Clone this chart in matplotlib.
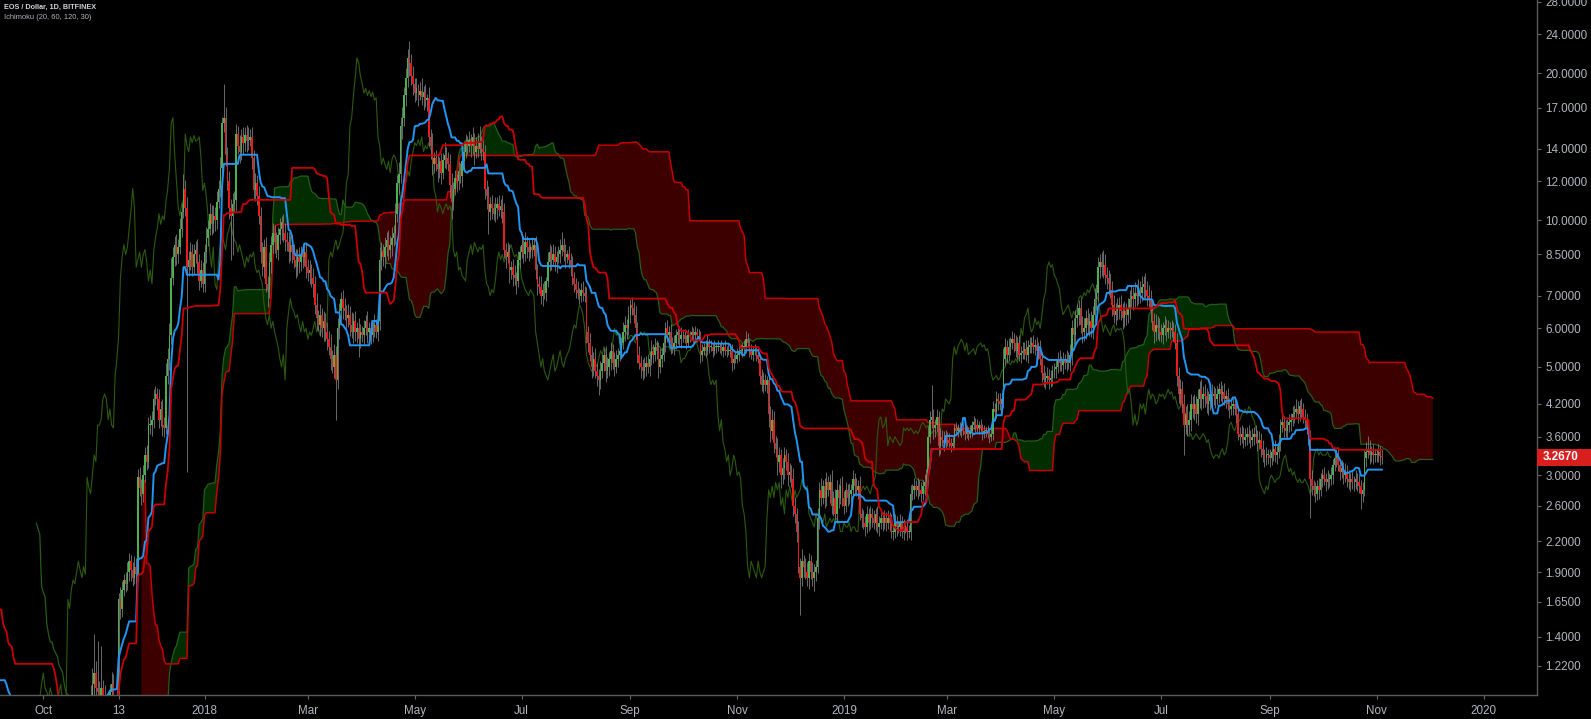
import numpy as np
import pandas as pd
import matplotlib
matplotlib.use("Agg")
import matplotlib.pyplot as plt
import matplotlib.transforms as mtransforms
from matplotlib.patches import Rectangle

# ---------------- data: daily closes (Bitfinex EOS/USD), upper / lower wick in % ----------------
c_2017_07 = [2.60,3.00,3.10,3.00,2.90,2.75,2.50,2.35,2.30,2.10, 1.95,2.05,1.95,1.80,1.55,1.35,1.60,1.75,1.65,1.85, 1.75,1.80,1.70,1.65,1.50,1.50,1.55,1.60,1.50,1.55,1.65]
u_2017_07 = [41,67,74,13,17,19,9,8,6,9, 10,9,7,5,5,4,3,5,4,5, 4,3,4,3,4,3,4,3,4,3,4]
d_2017_07 = [23,8,6,5,6,5,6,5,4,6, 5,4,5,6,7,11,4,5,6,4, 5,4,5,6,5,4,5,4,5,4,3]
c_2017_08 = [1.60,1.55,1.50,1.55,1.65,1.75,1.85,1.90,1.80,1.70, 1.55,1.45,1.50,1.40,1.35,1.40,1.45,1.50,1.45,1.40, 1.50,1.45,1.40,1.35,1.30,1.35,1.30,1.25,1.20,1.15,1.10]
u_2017_08 = [3,4,3,4,3,4,3,6,3,4, 3,4,3,4,3,4,3,5,4,3, 7,4,3,4,3,4,3,4,3,4,3]
d_2017_08 = [5,4,5,4,3,4,3,4,5,4, 5,4,3,5,4,3,4,3,4,5, 3,4,5,4,5,3,4,5,4,5,6]
c_2017_09 = [1.05,0.95,0.90,0.72,0.85,0.90,0.88,0.82,0.85,0.80, 0.78,0.75,0.70,0.55,0.60,0.65,0.68,0.75,0.70,0.72, 0.70,0.66,0.68,0.70,0.68,0.66,0.68,0.70,0.72,0.74]
u_2017_09 = [4,3,4,3,5,6,4,3,4,3, 4,3,4,3,5,4,3,5,4,3, 4,3,4,3,4,3,4,3,4,3]
d_2017_09 = [5,6,5,6,4,3,4,5,4,5, 4,5,6,5,18,4,5,4,5,4, 5,4,3,4,5,4,3,4,3,4]
c_2017_10 = [0.75,0.78,0.80,0.78,0.76,0.74,0.72,0.70,0.72,0.70, 0.68,0.70,0.72,0.75,0.72,0.70,0.72,0.75,0.78,0.80, 0.85,0.82,0.80,0.85,0.90,0.95,0.92,1.05,1.12,1.18,1.10]
u_2017_10 = [3,4,3,4,3,4,3,4,3,4, 3,4,3,4,3,4,3,4,3,4, 5,4,3,5,4,5,4,6,8,20,6]
d_2017_10 = [4,3,4,3,4,3,4,5,4,3, 4,3,4,3,4,3,4,3,4,3, 4,5,4,3,4,5,4,3,4,5,6]
c_2017_11 = [1.08,1.05,1.10,1.06,1.02,0.98,1.02,1.08,1.12,1.00, 1.02,1.05,1.67,1.60,1.75,1.83,1.80,1.90,2.00,1.92, 1.85,1.95,1.88,2.97,2.83,2.75,3.00,3.30,3.20,3.80]
u_2017_11 = [25,5,22,4,5,4,5,4,6,5, 4,5,3,6,4,3,4,5,4,3, 4,5,4,4,5,4,5,4,5,4]
d_2017_11 = [4,5,4,5,4,5,4,3,4,5, 4,5,5,5,4,3,4,3,4,5, 4,3,4,3,4,5,4,3,4,3]
c_2017_12 = [3.80,3.90,4.30,4.40,4.30,3.90,4.10,3.80,3.75,4.80, 5.20,5.80,7.60,8.40,8.90,8.50,8.80,9.60,10.40,11.60, 10.60,8.00,8.30,8.60,8.00,8.50,8.70,8.20,7.50,7.90,7.40]
u_2017_12 = [5,4,5,4,3,5,4,5,4,6, 5,6,10,5,4,5,4,5,4,7, 4,5,4,5,4,5,4,5,4,5,4]
d_2017_12 = [4,5,4,3,5,4,3,5,4,3, 4,5,4,3,4,5,4,3,4,3, 4,62,4,5,4,3,4,5,4,3,4]

c_2018_01 = [8.60,9.20,9.60,10.30,9.80,10.20,10.00,10.90,11.60,12.80, 15.80,16.20,13.60,12.00,10.60,10.20,10.80,11.00,15.00,14.20, 13.80,14.80,14.40,14.90,14.50,14.60,14.80,13.40,11.50,11.90,11.20]
u_2018_01 = [4,5,4,5,4,5,4,5,4,5, 3,17,5,4,5,4,5,4,5,4, 5,4,5,4,5,6,4,5,4,5,4]
d_2018_01 = [4,5,4,3,5,4,5,4,3,4, 5,4,5,4,5,19,17,4,5,4, 5,4,5,4,5,4,3,5,4,5,4]
c_2018_02 = [10.20,8.60,8.00,8.80,7.40,7.20,8.20,8.90,9.40,9.00, 8.70,9.30,9.60,9.90,9.40,9.10,9.00,8.60,8.90,8.60, 8.30,8.00,8.40,8.20,8.50,8.40,8.60,8.00]
u_2018_02 = [5,4,5,4,5,4,5,4,5,4, 5,4,5,3,4,5,4,5,4,5, 4,5,4,5,4,5,4,5]
d_2018_02 = [4,5,4,5,4,8,4,5,4,5, 4,5,4,5,4,5,4,5,4,5, 4,5,4,5,4,5,4,5]
c_2018_03 = [7.80,7.90,7.60,7.40,6.70,6.30,6.10,6.40,6.00,6.20, 5.90,5.70,5.50,5.20,5.00,5.30,4.70,6.00,6.50,6.90, 6.60,6.50,6.30,6.40,6.10,5.90,6.20,5.90,6.00,5.70,5.90]
u_2018_03 = [4,5,3,5,4,6,4,5,3,5, 4,5,4,6,4,5,4,5,4,3, 4,5,3,5,4,6,4,5,3,5,4]
d_2018_03 = [4,5,4,6,4,5,3,5,4,6, 4,5,4,5,3,5,17,4,5,4, 5,4,6,4,5,3,5,4,5,8,4]
c_2018_04 = [5.80,6.00,6.20,5.90,6.00,5.80,6.00,6.10,5.90,6.20, 8.30,8.60,8.40,8.80,9.10,8.70,8.90,9.20,9.40,10.30, 11.90,12.40,15.60,16.20,18.00,19.50,21.50,21.00,19.70,19.00]
u_2018_04 = [3,4,3,5,3,4,3,5,3,4, 6,5,4,5,4,5,4,5,4,5, 4,6,4,5,4,5,4,8,4,5]
d_2018_04 = [3,4,3,5,3,4,3,4,3,4, 4,5,4,5,4,5,4,5,4,5, 4,5,4,6,4,5,4,6,4,5]
c_2018_05 = [18.20,18.60,18.00,18.40,17.90,18.30,17.60,17.80,14.80,14.20, 13.00,13.40,13.00,12.70,13.20,12.50,13.30,13.60,13.40,13.00, 11.80,10.90,11.60,12.20,12.00,12.60,12.30,13.20,13.80,14.40,14.20]
u_2018_05 = [3,5,2,4,6,3,4,2,5,4, 6,3,4,5,2,4,3,6,4,3, 5,6,3,4,2,5,4,3,5,4,3]
d_2018_05 = [4,3,5,2,4,6,3,5,4,6, 5,4,3,6,4,5,3,4,5,3, 6,8,4,3,5,4,3,5,4,3,4]
c_2018_06 = [14.60,14.20,14.80,13.80,14.20,14.00,14.40,14.00,13.80,11.60, 11.20,10.40,10.80,10.60,10.30,10.60,10.80,10.50,10.70,10.40, 8.70,8.40,8.60,7.90,8.00,7.70,7.60,7.50,8.30,8.60]
u_2018_06 = [4,3,5,2,4,6,8,3,4,3, 4,5,3,4,2,5,3,4,3,5, 4,3,5,4,3,4,5,3,4,3]
d_2018_06 = [3,5,4,6,3,4,2,5,4,5, 6,10,4,5,3,4,5,3,4,5, 4,5,3,6,4,5,3,6,3,4]
c_2018_07 = [8.90,8.50,9.00,8.80,8.60,8.80,8.70,8.90,7.90,7.40, 7.30,7.00,7.20,7.10,7.50,8.20,8.60,8.30,8.50,8.20, 8.40,8.50,8.70,8.90,8.60,8.40,8.50,8.30,8.10,7.60,7.40]
u_2018_07 = [4,3,5,3,4,2,5,3,4,3, 4,5,3,4,2,5,4,3,5,4, 3,4,5,6,3,4,2,4,3,4,3]
d_2018_07 = [3,4,3,5,4,3,4,3,4,5, 3,4,5,3,4,3,4,5,3,4, 5,3,4,3,4,5,3,4,5,3,4]
c_2018_08 = [7.20,7.10,7.00,7.20,7.10,7.00,5.90,5.60,5.30,5.00, 5.20,4.90,4.80,4.70,4.90,5.10,5.30,4.90,5.00,5.20, 5.40,5.10,5.00,5.20,5.30,5.40,5.60,5.90,6.10,6.00,6.40]
u_2018_08 = [3,4,2,3,4,3,4,3,5,4, 3,5,4,3,5,4,3,4,5,3, 4,3,5,4,3,4,3,5,4,3,4]
d_2018_08 = [4,3,4,3,4,3,5,4,3,5, 4,3,5,7,4,3,4,5,3,4, 5,3,4,3,4,3,4,3,4,5,3]
c_2018_09 = [6.70,6.60,6.40,6.00,5.30,5.10,5.00,4.90,5.00,5.10, 5.00,5.20,5.40,5.30,5.50,5.40,5.00,5.20,5.30,5.60, 6.00,5.80,5.90,5.60,5.50,5.60,5.80,5.90,5.70,5.80]
u_2018_09 = [3,4,3,4,3,4,3,4,5,3, 4,3,5,3,4,3,4,5,3,4, 3,4,3,4,3,4,3,4,3,4]
d_2018_09 = [4,3,4,5,4,3,5,4,3,4, 3,4,3,4,3,4,5,3,4,3, 4,3,4,5,3,4,3,4,3,4]
c_2018_10 = [5.80,5.70,5.60,5.80,5.80,5.90,5.80,5.90,5.80,5.80, 5.30,5.40,5.50,5.40,5.60,5.50,5.50,5.40,5.50,5.50, 5.50,5.50,5.40,5.50,5.40,5.40,5.40,5.40,5.10,5.20,5.20]
u_2018_10 = [2,3,2,3,2,3,2,3,2,3, 2,3,2,3,4,2,3,2,3,2, 3,2,3,2,3,2,3,2,3,2,3]
d_2018_10 = [3,2,3,2,3,2,3,2,3,2, 4,3,2,3,2,3,2,3,2,3, 2,3,2,3,2,3,2,3,4,3,2]
c_2018_11 = [5.30,5.40,5.40,5.50,5.50,5.70,5.60,5.40,5.30,5.40, 5.40,5.30,5.20,4.80,4.60,4.70,4.60,4.70,4.00,3.70, 3.90,3.50,3.40,3.20,3.30,3.00,3.10,3.30,3.20,3.00]
u_2018_11 = [3,2,3,2,3,4,3,2,3,2, 3,2,3,2,3,4,3,2,3,4, 5,4,3,5,4,3,5,4,3,4]
d_2018_11 = [2,3,2,3,2,3,2,3,2,3, 2,3,2,4,3,4,3,4,6,5, 4,5,4,6,5,6,4,5,4,5]
c_2018_12 = [3.05,2.95,2.60,2.50,2.30,1.95,1.85,2.00,1.95,1.90, 1.85,2.00,1.90,1.85,1.90,1.95,2.45,2.80,2.70,2.85, 2.70,2.90,2.80,2.90,2.60,2.70,2.50,2.80,2.70,2.85,2.70]
u_2018_12 = [4,3,5,4,3,5,4,6,3,4, 5,4,3,5,4,3,5,4,6,3, 4,5,3,4,6,3,4,5,3,4,5]
d_2018_12 = [3,4,5,4,5,3,16,4,5,3, 4,5,3,4,6,4,3,5,4,3, 5,4,3,6,4,5,3,4,5,3,4]

c_2019_01 = [2.60,2.80,2.70,2.75,2.80,2.95,2.85,2.80,2.85,2.50, 2.45,2.40,2.35,2.50,2.40,2.50,2.45,2.40,2.50,2.35, 2.40,2.45,2.40,2.45,2.40,2.45,2.40,2.30,2.30,2.40,2.35]
u_2019_01 = [3,4,3,5,3,4,3,4,3,5, 3,4,3,4,3,4,3,4,3,4, 3,4,3,4,3,4,3,4,3,4,3]
d_2019_01 = [4,3,4,3,4,3,4,3,4,3, 4,3,4,3,4,3,4,3,4,3, 4,3,4,3,4,3,4,3,4,3,4]
c_2019_02 = [2.35,2.40,2.30,2.35,2.35,2.30,2.30,2.75,2.80,2.85, 2.80,2.85,2.80,2.75,2.85,2.90,3.00,3.60,3.90,3.95, 3.75,3.80,3.95,3.45,3.60,3.55,3.50,3.60]
u_2019_02 = [3,4,3,4,3,4,3,4,3,4, 3,4,3,4,3,4,3,5,4,16, 4,3,4,3,4,3,4,3]
d_2019_02 = [3,4,3,4,3,4,3,4,3,4, 3,4,3,4,3,4,3,4,3,4, 5,4,3,5,4,3,4,3]
c_2019_03 = [3.55,3.50,3.45,3.50,3.75,3.70,3.75,3.70,3.75,3.70, 3.65,3.70,3.65,3.70,3.80,3.85,3.80,3.75,3.80,3.75, 3.65,3.70,3.70,3.65,3.60,3.65,4.10,4.05,4.30,4.25,4.20]
u_2019_03 = [2,3,2,3,2,3,2,3,2,3, 2,3,2,3,2,3,2,3,2,3, 2,3,2,3,2,3,4,3,4,3,4]
d_2019_03 = [3,2,3,2,3,2,3,2,3,2, 3,2,3,2,3,2,3,2,3,2, 3,2,3,2,3,2,3,4,3,4,3]
c_2019_04 = [4.30,5.20,5.50,5.30,5.50,5.60,5.70,5.60,5.40,5.60, 5.30,5.35,5.40,5.45,5.30,5.50,5.55,5.60,5.50,5.55, 5.40,5.45,5.20,4.85,4.70,4.75,4.80,4.70,4.75,4.90]
u_2019_04 = [3,5,4,3,4,3,4,3,4,3, 4,3,4,3,4,3,4,3,4,3, 4,3,4,3,4,3,4,3,4,3]
d_2019_04 = [3,4,3,4,3,4,3,4,3,4, 3,4,3,4,3,4,3,4,3,4, 3,4,3,4,3,4,3,4,3,4]
c_2019_05 = [4.95,5.00,5.20,5.10,5.05,5.15,5.10,5.20,5.10,5.30, 6.00,5.80,6.30,6.40,6.60,6.10,5.90,6.00,6.30,6.10, 6.20,6.00,6.40,6.90,7.10,8.00,8.20,8.00,8.10,7.70,7.60]
u_2019_05 = [3,4,3,4,3,4,3,4,3,5, 4,5,4,5,4,5,4,5,4,5, 4,5,4,5,4,5,4,5,7,5,4]
d_2019_05 = [3,4,3,4,3,4,3,4,3,4, 5,4,5,4,5,4,5,4,5,4, 5,4,5,4,5,4,5,4,5,4,5]
c_2019_06 = [7.40,7.20,6.70,6.40,6.50,6.60,6.70,6.50,6.30,6.50, 6.40,6.60,6.90,7.00,6.90,7.10,7.00,7.20,7.10,7.30, 7.40,7.20,7.00,6.90,6.50,6.20,5.90,6.10,6.00,5.90]
u_2019_06 = [4,5,4,5,4,5,4,5,4,5, 4,5,4,5,4,5,4,5,4,5, 4,5,4,5,4,5,4,5,4,5]
d_2019_06 = [5,4,5,4,5,4,5,4,5,4, 5,4,5,4,5,4,5,4,5,4, 5,4,5,4,5,4,5,4,5,4]
c_2019_07 = [5.80,6.00,6.10,5.90,6.00,5.95,6.00,5.90,5.60,4.80, 4.40,4.50,4.20,3.80,4.00,3.80,3.90,4.20,4.10,4.20, 4.00,4.30,4.50,4.30,4.40,4.35,4.20,4.25,4.40,4.35,4.40]
u_2019_07 = [4,3,4,3,4,3,4,3,4,5, 4,5,4,5,4,5,4,5,4,5, 4,5,4,5,4,5,4,5,4,5,4]
d_2019_07 = [3,4,3,4,3,4,3,4,3,5, 4,5,4,13,4,5,4,5,4,5, 4,5,4,5,4,5,4,5,4,5,4]
c_2019_08 = [4.30,4.40,4.50,4.40,4.45,4.30,4.35,4.20,4.10,4.15, 4.20,4.10,4.00,3.65,3.60,3.65,3.55,3.60,3.65,3.60, 3.55,3.60,3.65,3.60,3.50,3.55,3.40,3.30,3.25,3.30,3.30]
u_2019_08 = [3,4,3,4,3,4,3,4,3,4, 3,4,3,4,3,4,3,4,3,4, 3,4,3,4,3,4,3,4,3,4,3]
d_2019_08 = [4,3,4,3,4,3,4,3,4,3, 4,3,4,3,4,3,4,3,4,3, 4,3,4,3,4,3,4,3,4,3,4]
c_2019_09 = [3.25,3.35,3.40,3.30,3.35,3.50,3.80,3.85,3.75,3.70, 3.80,3.85,3.90,4.00,4.05,4.10,4.00,4.15,4.10,3.95, 3.90,3.75,3.60,2.95,2.85,2.80,2.75,2.85,2.80,2.95]
u_2019_09 = [3,4,3,4,3,4,3,4,3,4, 3,4,3,4,3,5,4,3,4,3, 4,3,4,3,4,3,4,3,4,3]
d_2019_09 = [4,3,4,3,4,3,4,3,4,3, 4,3,4,3,4,3,4,3,4,3, 4,3,4,17,4,3,4,3,4,3]
c_2019_10 = [3.00,2.95,2.90,2.95,2.95,3.00,3.15,3.25,3.30,3.15, 3.05,3.10,3.00,3.05,2.95,2.90,2.95,2.90,2.90,2.95, 2.90,2.85,2.75,2.80,3.25,3.35,3.40,3.30,3.35,3.30,3.30]
u_2019_10 = [3,4,3,4,3,4,3,4,3,4, 3,4,3,4,3,4,3,4,3,4, 3,4,3,4,4,5,6,4,3,4,3]
d_2019_10 = [4,3,4,3,4,3,4,3,4,3, 4,3,4,3,4,3,4,3,4,3, 4,3,7,4,3,4,3,4,3,4,3]
c_2019_11 = [3.30,3.35,3.28,3.267]
u_2019_11 = [3,4,3,3]
d_2019_11 = [3,3,4,3]

first_open = 3.20
start_date = "2017-07-01"
ichimoku_params = (20, 60, 120, 30)

x_tick_dates = ["2017-10-01", "2017-11-13", "2018-01-01", "2018-03-01", "2018-05-01", "2018-07-01",
                "2018-09-01", "2018-11-01", "2019-01-01", "2019-03-01", "2019-05-01", "2019-07-01",
                "2019-09-01", "2019-11-01", "2020-01-01"]
x_tick_labels = ["Oct", "13", "2018", "Mar", "May", "Jul", "Sep", "Nov", "2019", "Mar", "May", "Jul",
                 "Sep", "Nov", "2020"]
y_ticks = [1.22, 1.40, 1.65, 1.90, 2.20, 2.60, 3.00, 3.60, 4.20, 5.00, 6.00, 7.00, 8.50,
           10.0, 12.0, 14.0, 17.0, 20.0, 24.0, 28.0]
title_line1 = "EOS / Dollar, 1D, BITFINEX"
title_line2 = "Ichimoku (20, 60, 120, 30)"

# ---------------- assemble ----------------
months = [
    (c_2017_07, u_2017_07, d_2017_07), (c_2017_08, u_2017_08, d_2017_08), (c_2017_09, u_2017_09, d_2017_09),
    (c_2017_10, u_2017_10, d_2017_10), (c_2017_11, u_2017_11, d_2017_11), (c_2017_12, u_2017_12, d_2017_12),
    (c_2018_01, u_2018_01, d_2018_01), (c_2018_02, u_2018_02, d_2018_02), (c_2018_03, u_2018_03, d_2018_03),
    (c_2018_04, u_2018_04, d_2018_04), (c_2018_05, u_2018_05, d_2018_05), (c_2018_06, u_2018_06, d_2018_06),
    (c_2018_07, u_2018_07, d_2018_07), (c_2018_08, u_2018_08, d_2018_08), (c_2018_09, u_2018_09, d_2018_09),
    (c_2018_10, u_2018_10, d_2018_10), (c_2018_11, u_2018_11, d_2018_11), (c_2018_12, u_2018_12, d_2018_12),
    (c_2019_01, u_2019_01, d_2019_01), (c_2019_02, u_2019_02, d_2019_02), (c_2019_03, u_2019_03, d_2019_03),
    (c_2019_04, u_2019_04, d_2019_04), (c_2019_05, u_2019_05, d_2019_05), (c_2019_06, u_2019_06, d_2019_06),
    (c_2019_07, u_2019_07, d_2019_07), (c_2019_08, u_2019_08, d_2019_08), (c_2019_09, u_2019_09, d_2019_09),
    (c_2019_10, u_2019_10, d_2019_10), (c_2019_11, u_2019_11, d_2019_11),
]
closes, upw, dnw = [], [], []
for c, u, d in months:
    n = len(c)
    u = (list(u) + [3] * n)[:n]
    d = (list(d) + [3] * n)[:n]
    closes += c; upw += u; dnw += d
close = np.array(closes, float)
opn = np.concatenate([[first_open], close[:-1]])
high = np.maximum(opn, close) * (1 + np.array(upw) / 100.0)
low = np.minimum(opn, close) * (1 - np.array(dnw) / 100.0)

dates = pd.date_range(start_date, periods=len(close), freq="D")
ref = pd.Timestamp("2018-01-01")
x = np.array((dates - ref).days, float)

# ---------------- Ichimoku ----------------
conv_p, base_p, spanb_p, disp = ichimoku_params
H = pd.Series(high); L = pd.Series(low); C = pd.Series(close)
tenkan = (H.rolling(conv_p).max() + L.rolling(conv_p).min()) / 2
kijun = (H.rolling(base_p).max() + L.rolling(base_p).min()) / 2
spanA = ((tenkan + kijun) / 2).values
spanB = ((H.rolling(spanb_p).max() + L.rolling(spanb_p).min()) / 2).values
off = disp - 1
x_lead = x + off
x_lag = x - off

# ---------------- figure ----------------
W, Hh = 1591, 719
fig = plt.figure(figsize=(W / 100, Hh / 100), dpi=100, facecolor="black")
ax_l, ax_r, ax_top, ax_bot = 0, 1537, 0, 695.3
ax = fig.add_axes([ax_l / W, (Hh - ax_bot) / Hh, (ax_r - ax_l) / W, (ax_bot - ax_top) / Hh])
ax.set_facecolor("black")
ax.set_yscale("log")

# cloud
valid = ~(np.isnan(spanA) | np.isnan(spanB))
ax.fill_between(x_lead, spanA, spanB, where=valid & (spanA >= spanB), interpolate=True,
                color="#012d01", linewidth=0, zorder=1)
ax.fill_between(x_lead, spanA, spanB, where=valid & (spanB > spanA), interpolate=True,
                color="#3d0000", linewidth=0, zorder=1)
ax.plot(x_lead, spanA, color="#255e16", lw=0.9, zorder=2)
ax.plot(x_lead, spanB, color="#c40000", lw=1.1, zorder=2)
# lagging span
ax.plot(x_lag, close, color="#2c5a0e", lw=0.8, zorder=2)

# candles
ax.vlines(x, low, high, color="#858585", lw=0.55, zorder=3)
up = close >= opn
body_h = np.maximum(np.abs(close - opn), close * 0.004)
ax.bar(x[up], body_h[up], bottom=opn[up], width=0.85, color="#4caf50", linewidth=0, zorder=4)
ax.bar(x[~up], body_h[~up], bottom=close[~up], width=0.85, color="#e81c1c", linewidth=0, zorder=4)

# conversion / base lines
ax.plot(x, tenkan, color="#2196f3", lw=1.4, zorder=5)
ax.plot(x, kijun, color="#cc0000", lw=1.3, zorder=5)

# axes
px_per_day = (1483.5 - 204.5) / 730.0
ax.set_xlim(-204.5 / px_per_day, (ax_r - 204.5) / px_per_day)
ymin = 1.22 * np.exp(-(ax_bot - 666) / 212.0)
ymax = 1.22 * np.exp(666 / 212.0)
ax.set_ylim(ymin, ymax)

xt = [(pd.Timestamp(t) - ref).days for t in x_tick_dates]
ax.set_xticks(xt)
ax.set_xticklabels(x_tick_labels)
ax.yaxis.tick_right()
ax.set_yticks(y_ticks)
ax.set_yticklabels(["%.4f" % v for v in y_ticks])
ax.yaxis.set_minor_locator(matplotlib.ticker.NullLocator())
ax.xaxis.set_minor_locator(matplotlib.ticker.NullLocator())
for lab in ax.get_xticklabels() + ax.get_yticklabels():
    lab.set_fontfamily("Liberation Sans")
    lab.set_fontsize(8.4)
    lab.set_color("#b2b5be")
ax.tick_params(axis="x", length=3, color="#666666", pad=4)
ax.tick_params(axis="y", length=3, color="#666666", pad=3)
for s in ("left", "top"):
    ax.spines[s].set_visible(False)
for s in ("right", "bottom"):
    ax.spines[s].set_color("#5a5a5a")
    ax.spines[s].set_linewidth(1.0)

# last price label
last = close[-1]
trans = mtransforms.blended_transform_factory(fig.transFigure, ax.transData)
hh = 8.5 / 212.0
rect = Rectangle((ax_r / W, last * np.exp(-hh)), (W - ax_r) / W, last * (np.exp(hh) - np.exp(-hh)),
                 transform=trans, facecolor="#d91e1e", edgecolor="none", clip_on=False, zorder=10)
fig.patches.append(rect)
fig.text((ax_r + 6) / W, last, "%.4f" % last, transform=trans, color="white", fontsize=8.4,
         fontweight="bold", family="Liberation Sans", va="center", ha="left", zorder=11)

# titles
fig.text(4 / W, 1 - 7.5 / Hh, title_line1, color="#d1d4dc", fontsize=5.2, fontweight="bold",
         family="Liberation Sans", va="center", ha="left")
fig.text(4 / W, 1 - 17.5 / Hh, title_line2, color="#b2b5be", fontsize=5.4,
         family="Liberation Sans", va="center", ha="left")

fig.savefig("out.png", dpi=100, facecolor="black")
